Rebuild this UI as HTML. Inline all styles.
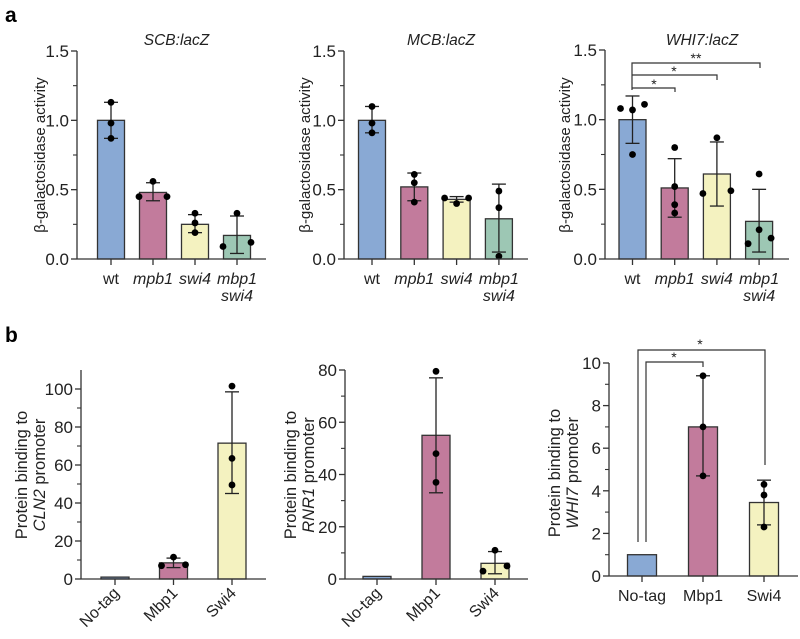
<!DOCTYPE html>
<html><head><meta charset="utf-8"><style>
body{margin:0;background:#fff}
svg{display:block;font-family:"Liberation Sans",Arial,sans-serif}
</style></head><body>
<svg id="fig" width="800" height="639" viewBox="0 0 800 639" xmlns="http://www.w3.org/2000/svg">
<text x="5" y="22" font-size="21" font-weight="bold">a</text>
<text x="5" y="342" font-size="21" font-weight="bold">b</text>
</svg>
<script>
const COLORS = ["#89a9d4","#c27b9c","#f4f2c0","#9dc7b4"];
// Panel a1 SCB:lacZ
const a1Cats = ["wt","mpb1","swi4","mbp1|swi4"];
const a1Means = [1.0,0.48,0.25,0.17];
const a1ErrLo = [0.87,0.42,0.19,0.04];
const a1ErrHi = [1.13,0.55,0.32,0.31];
const a1Pts = [[1.13,0.98,0.87],[0.56,0.45,0.45],[0.33,0.26,0.19],[0.33,0.09,0.12]];
// Panel a2 MCB:lacZ
const a2Cats = ["wt","mpb1","swi4","mbp1|swi4"];
const a2Means = [1.0,0.52,0.43,0.29];
const a2ErrLo = [0.91,0.42,0.41,0.05];
const a2ErrHi = [1.10,0.62,0.45,0.54];
const a2Pts = [[1.10,0.98,0.91],[0.61,0.55,0.41],[0.44,0.40,0.44],[0.49,0.37,0.02]];
// Panel a3 WHI7:lacZ
const a3Cats = ["wt","mpb1","swi4","mbp1|swi4"];
const a3Means = [1.0,0.51,0.61,0.27];
const a3ErrLo = [0.83,0.30,0.38,0.05];
const a3ErrHi = [1.17,0.72,0.84,0.50];
const a3Pts = [[1.08,1.07,1.11,0.75],[0.80,0.52,0.39,0.33],[0.87,0.47,0.49],[0.61,0.21,0.11,0.15]];
const aTicks = [0,0.5,1.0,1.5];
const aTickLabels = ["0.0","0.5","1.0","1.5"];
// Panel b
const bCats = ["No-tag","Mbp1","Swi4"];
const b1Means = [1,8.5,71.5];
const b1ErrLo = [null,6,45];
const b1ErrHi = [null,11,98.5];
const b1Pts = [[],[11.5,7,7.5],[101.5,63.5,49.5]];
const b1Ticks = [0,20,40,60,80,100];
const b2Means = [1,55,6];
const b2ErrLo = [null,33,2];
const b2ErrHi = [null,77,10.5];
const b2Pts = [[],[79.5,48,37],[11,3,5]];
const b2Ticks = [0,20,40,60,80];
const b3Means = [1,7,3.45];
const b3ErrLo = [null,4.7,2.4];
const b3ErrHi = [null,9.4,4.5];
const b3Pts = [[],[9.4,7,4.7],[4.3,3.8,2.3]];
const b3Ticks = [0,2,4,6,8,10];

const svg = document.getElementById('fig');
const NS = "http://www.w3.org/2000/svg";
function mk(tag, attrs, name, parent){
  const e = document.createElementNS(NS, tag);
  for (const k in attrs) e.setAttribute(k, attrs[k]);
  
  
  (parent||svg).appendChild(e);
  return e;
}
function panel(o){
  const g = mk('g', {}, o.name);
  const y = v => o.y0 - v / o.ymax * (o.y0 - o.ytop);
  const xs = i => o.x1 + o.step * i;
  o.means.forEach((m, i) => {
    mk('rect', {x: xs(i) - o.bw/2, y: y(m), width: o.bw, height: o.y0 - y(m), fill: COLORS[i], stroke: "#333", 'stroke-width': 1.3}, 'bar-' + o.cats[i].replace('|','-').toLowerCase(), g);
  });
  o.means.forEach((m, i) => {
    if (o.lo[i] == null) return;
    const c = xs(i);
    mk('line', {x1: c, x2: c, y1: y(o.lo[i]), y2: y(o.hi[i]), stroke: "#222", 'stroke-width': 1.3}, 'error-bar', g);
    mk('line', {x1: c - 7, x2: c + 7, y1: y(o.lo[i]), y2: y(o.lo[i]), stroke: "#222", 'stroke-width': 1.3}, 'error-cap-low', g);
    mk('line', {x1: c - 7, x2: c + 7, y1: y(o.hi[i]), y2: y(o.hi[i]), stroke: "#222", 'stroke-width': 1.3}, 'error-cap-high', g);
  });
  o.pts.forEach((arr, i) => {
    const offs = o.spread[i] || [];
    arr.forEach((v, j) => {
      mk('circle', {cx: xs(i) + (offs[j] || 0), cy: y(v), r: 3.4, fill: "#000"}, 'data-point', g);
    });
  });
  mk('line', {x1: o.ax, x2: o.ax, y1: o.ytop, y2: o.y0, stroke: "#333", 'stroke-width': 1.3}, 'y-axis', g);
  mk('line', {x1: o.ax, x2: o.axEnd, y1: o.y0, y2: o.y0, stroke: "#333", 'stroke-width': 1.3}, 'x-axis', g);
  o.ticks.forEach((t, k) => {
    mk('line', {x1: o.ax - 6, x2: o.ax, y1: y(t), y2: y(t), stroke: "#333", 'stroke-width': 1.3}, 'y-tick', g);
    const tx = mk('text', {x: o.ax - 8, y: y(t) + 6, 'font-size': 17, 'text-anchor': 'end', fill: "#222"}, 'y-tick-label', g);
    tx.textContent = o.tickLabels ? o.tickLabels[k] : t;
    if (k < o.ticks.length - 1) {
      const mid = (t + o.ticks[k+1]) / 2;
      mk('line', {x1: o.ax - 4, x2: o.ax, y1: y(mid), y2: y(mid), stroke: "#333", 'stroke-width': 1.1}, 'y-minor-tick', g);
    }
  });
  o.cats.forEach((c, i) => {
    const cx = xs(i);
    mk('line', {x1: cx, x2: cx, y1: o.y0, y2: o.y0 + 6, stroke: "#333", 'stroke-width': 1.3}, 'x-tick', g);
    if (o.rot) {
      const t = mk('text', {x: cx + 5, y: o.y0 + 15, 'font-size': 16, 'text-anchor': 'end', transform: `rotate(-45 ${cx + 5} ${o.y0 + 15})`, fill: "#222"}, 'x-tick-label', g);
      t.textContent = c;
    } else {
      const lines = c.split('|');
      lines.forEach((l, li) => {
        const t = mk('text', {x: cx, y: o.y0 + 25 + li * 17, 'font-size': 16, 'text-anchor': 'middle', fill: "#222", 'font-style': (o.italic && c !== 'wt') ? 'italic' : 'normal'}, 'x-tick-label', g);
        t.textContent = l;
      });
    }
  });
  const yl = mk('text', {transform: `translate(${o.ylx},${o.yly}) rotate(-90)`, 'font-size': o.ylab2 ? 16.5 : 15, 'text-anchor': 'middle', fill: "#222"}, 'y-axis-title', g);
  if (o.ylab2) {
    const s1 = document.createElementNS(NS, 'tspan'); s1.setAttribute('x', 0); s1.setAttribute('dy', 0); s1.textContent = o.ylab;
    const s2 = document.createElementNS(NS, 'tspan'); s2.setAttribute('x', 0); s2.setAttribute('dy', 18);
    const s3 = document.createElementNS(NS, 'tspan'); s3.setAttribute('font-style', 'italic'); s3.textContent = o.ylab2;
    s2.appendChild(s3); s2.appendChild(document.createTextNode(' promoter'));
    yl.appendChild(s1); yl.appendChild(s2);
  } else yl.textContent = o.ylab;
  if (o.title) {
    const t = mk('text', {x: (o.ax + o.axEnd) / 2 + 5, y: 45, 'font-size': 15.5, 'font-style': 'italic', 'text-anchor': 'middle', fill: "#222"}, 'chart-title', g);
    t.textContent = o.title;
  }
  return o;
}
panel({name:'chart-scb', cats:a1Cats, means:a1Means, lo:a1ErrLo, hi:a1ErrHi, pts:a1Pts, spread:[[0,0,0],[0,-14,14],[0,0,0],[0,-14,14]], ticks:aTicks, tickLabels:aTickLabels,
  ymax:1.5, y0:259, ytop:51, ax:77, axEnd:266, x1:111, step:42, bw:27, italic:true, ylab:'β-galactosidase activity', ylx:45, yly:155, title:'SCB:lacZ'});
panel({name:'chart-mcb', cats:a2Cats, means:a2Means, lo:a2ErrLo, hi:a2ErrHi, pts:a2Pts, spread:[[0,0,0],[0,0,0],[-12,0,12],[0,0,0]], ticks:aTicks, tickLabels:aTickLabels,
  ymax:1.5, y0:259, ytop:51, ax:344, axEnd:528, x1:372, step:42.3, bw:27, italic:true, ylab:'β-galactosidase activity', ylx:310, yly:155, title:'MCB:lacZ'});
panel({name:'chart-whi7', cats:a3Cats, means:a3Means, lo:a3ErrLo, hi:a3ErrHi, pts:a3Pts, spread:[[-12,0,12,0],[0,0,0,0],[0,-14,14],[0,0,-11,12]], ticks:aTicks, tickLabels:aTickLabels,
  ymax:1.5, y0:259, ytop:50, ax:605, axEnd:789, x1:632.5, step:42.2, bw:27, italic:true, ylab:'β-galactosidase activity', ylx:570, yly:155, title:'WHI7:lacZ'});
panel({name:'chart-cln2', cats:bCats, means:b1Means, lo:b1ErrLo, hi:b1ErrHi, pts:b1Pts, spread:[[0,0,0],[0,-12,12],[0,0,0]], ticks:b1Ticks,
  ymax:110, y0:579, ytop:370, ax:81, axEnd:266, x1:115, step:58.5, bw:28, rot:true, ylab:'Protein binding to', ylab2:'CLN2', ylx:27, yly:475});
panel({name:'chart-rnr1', cats:bCats, means:b2Means, lo:b2ErrLo, hi:b2ErrHi, pts:b2Pts, spread:[[0,0,0],[0,0,0],[0,-12,12]], ticks:b2Ticks,
  ymax:80, y0:579, ytop:370, ax:345, axEnd:528, x1:377, step:59, bw:28, rot:true, ylab:'Protein binding to', ylab2:'RNR1', ylx:296, yly:475});
panel({name:'chart-whi7-binding', cats:bCats, means:b3Means, lo:b3ErrLo, hi:b3ErrHi, pts:b3Pts, spread:[[0,0,0],[0,0,0],[0,0,0]], ticks:b3Ticks,
  ymax:10, y0:576, ytop:363, ax:609, axEnd:798, x1:642, step:61, bw:29, ylab:'Protein binding to', ylab2:'WHI7', ylx:560, yly:473});
function path(d, name){ mk('path', {d: d, fill:'none', stroke:'#333', 'stroke-width':1.2}, name); }
function star(x, y, s, name){ const t = mk('text', {x:x, y:y, 'font-size':14, 'text-anchor':'middle', fill:'#222'}, name); t.textContent = s; }
path('M632,90 V63 H760 V68', 'sig-bracket-wt-mbp1swi4');
path('M632,75 H717 V80', 'sig-bracket-wt-swi4');
path('M632,88 H675 V92', 'sig-bracket-wt-mpb1');
star(696, 63, '**', 'sig-star-double');
star(674, 76, '*', 'sig-star');
star(654, 89, '*', 'sig-star');
path('M638,542 V350 H765 V465', 'sig-bracket-notag-swi4');
path('M646,542 V362 H703 V367', 'sig-bracket-notag-mbp1');
star(700, 349, '*', 'sig-star');
star(674, 362, '*', 'sig-star');
</script>
</body></html>
